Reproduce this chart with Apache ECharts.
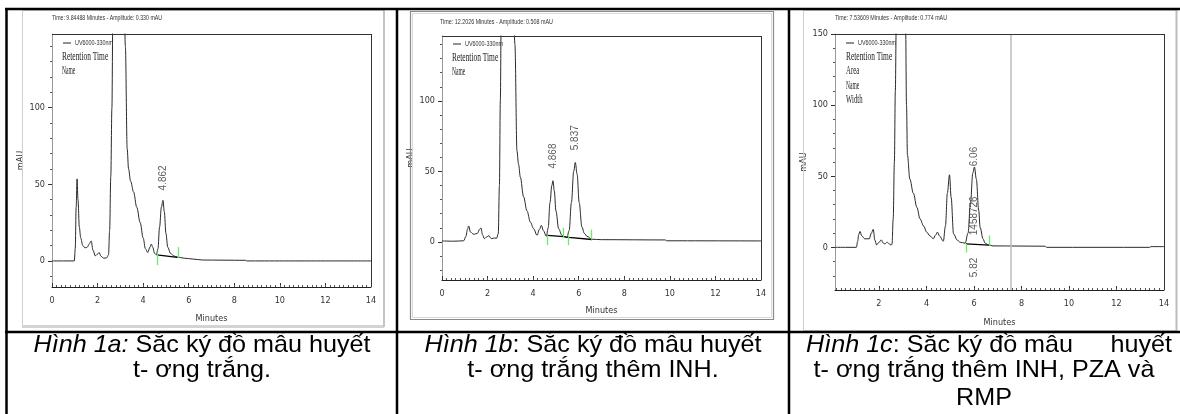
<!DOCTYPE html>
<html>
<head>
<meta charset="utf-8">
<script src="https://cdn.jsdelivr.net/npm/echarts@6.0.0/dist/echarts.min.js"></script>
<style>
    html, body { margin: 0; padding: 0; background: #fff; }
    #chart { width: 1180px; height: 414px; }
</style>
</head>
<body>
<div id="chart"></div>
<script>
// ---- data (minutes, mAU) ----
var trace1 = [[0,0],[0.5,0],[0.98,0],[1.02,8],[1.06,35],[1.1,53.5],[1.14,40],[1.2,22],[1.26,15],[1.35,10],[1.45,8.5],
    [1.55,9],[1.63,11],[1.72,13],[1.8,7],[1.9,3.3],[2.0,4.5],[2.07,5.5],[2.15,3],[2.27,1.8],[2.4,2],[2.48,4],[2.53,20],
    [2.58,55],[2.63,100],[2.67,160],[2.8,260],[3.0,280],[3.15,190],[3.22,140],[3.3,73],[3.36,60],[3.45,52],[3.58,45],
    [3.72,35],[3.87,25],[4.0,15],[4.1,8],[4.2,5.5],[4.3,9],[4.36,11],[4.42,9],[4.5,5],[4.58,4],[4.65,8],[4.72,22],
    [4.8,35],[4.87,39.5],[4.93,32],[5.0,18],[5.08,9],[5.2,5],[5.34,3.3],[5.5,2.5],[5.8,1.8],[6.2,1.2],[6.6,0.6],
    [7.5,0.5],[8.5,0.4],[8.55,0],[14,0]];
var trace2 = [[0,0.7],[0.5,0.5],[0.95,0.8],[1.05,4],[1.12,9],[1.17,11.3],[1.25,7],[1.39,5.4],[1.55,6],[1.65,9],
    [1.71,9.9],[1.78,5],[1.86,2.3],[1.96,3.5],[2.06,4.5],[2.12,3],[2.19,2.3],[2.3,2.8],[2.4,2.6],[2.47,6],[2.52,40],
    [2.56,100],[2.6,160],[2.75,260],[2.95,280],[3.1,200],[3.2,140],[3.29,64.5],[3.36,55],[3.44,45.8],[3.58,32],
    [3.73,22],[3.88,14],[4.02,9.4],[4.17,4.7],[4.28,9],[4.36,11.7],[4.45,8],[4.58,4],[4.66,10],[4.74,28],[4.82,40],
    [4.87,43.4],[4.93,36],[5.0,22],[5.12,9.4],[5.25,5],[5.34,4],[5.48,3],[5.58,8],[5.68,28],[5.78,50],[5.85,56.3],
    [5.93,48],[6.02,28],[6.14,10.6],[6.25,6],[6.36,4],[6.58,1.9],[7,1.6],[9.8,1.4],[9.85,0.8],[14,0.7]];
var trace3 = [[0.15,0],[0.6,0],[1.05,0],[1.1,4],[1.15,9],[1.2,11.2],[1.28,8],[1.4,6],[1.59,6],[1.68,10],[1.76,12.6],
    [1.83,5],[1.9,1.7],[2.0,3.5],[2.1,5.2],[2.18,3],[2.25,2.4],[2.35,3.6],[2.43,2.5],[2.5,1.7],[2.55,2],[2.6,20],
    [2.65,60],[2.69,110],[2.73,160],[2.85,250],[3.0,240],[3.12,160],[3.16,100],[3.2,65],[3.3,48],[3.45,38],[3.6,28],
    [3.73,20],[3.88,15],[4.01,10.7],[4.15,8],[4.29,6],[4.38,8.5],[4.46,10.7],[4.55,8],[4.71,4.3],[4.8,15],[4.88,38],
    [4.97,51],[5.04,35],[5.14,9.5],[5.3,5],[5.42,3.6],[5.63,2.9],[5.75,10],[5.85,30],[5.95,52],[6.02,56.5],[6.1,48],
    [6.2,26],[6.26,14],[6.38,6],[6.47,2.9],[6.61,1.7],[6.8,1],[9,0.8],[9.05,0],[13.4,0],[13.45,0.5],[14,0.5]];

// integration baselines
var base1 = [[4.6,4],[5.5,2.3]];
var base2 = [[4.63,4.7],[5.34,3.8],[5.56,3.2],[6.58,1.7]];
var base3 = [[5.66,2.4],[6.64,1.6]];

// green peak start/end markers: [minute, yFrom, yTo]
var marks1 = [[4.6,-2.7,4.5],[5.53,2,9]];
var marks2 = [[4.63,-2.3,4.7],[5.34,3,10],[5.56,-2.3,4.7],[6.55,1.6,8.7]];
var marks3 = [[5.66,-3.6,2.4],[6.64,1.2,8.3]];

// peak annotations: [minute, value where text starts, text]
var notes1 = [[4.862,46,'4.862']];
var notes2 = [[4.868,52,'4.868'],[5.837,65,'5.837']];
var notes3 = [[6.02,57,'6.06'],[6.02,8.5,'1458726'],[6.02,-21,'5.82']];

var cursor3 = 7.54;

var xTicks = [0,2,4,6,8,10,12,14];
var xTicks3 = [2,4,6,8,10,12,14];
var yTicks = [0,50,100];
var yTicks3 = [0,50,100,150];

var headers = ['Time: 9.84488 Minutes - Amplitude: 0.330 mAU',
    'Time: 12.2026 Minutes - Amplitude: 0.508 mAU',
    'Time: 7.53609 Minutes - Amplitude: 0.774 mAU'];
var legendName = 'UV6000-330nm';
var legendRows1 = ['Retention Time','Name'];
var legendRows3 = ['Retention Time','Area','Name','Width'];

// ---- layout ----
var grids = [
    {left: 52, top: 34, width: 319, height: 253},
    {left: 442, top: 36, width: 319, height: 244},
    {left: 835, top: 34, width: 329, height: 256}
];
var xRange = [[0,14],[0,14],[0.15,14]];
var yRange = [[-17,148],[-27,146],[-30,150]];
var nameGapX = [27, 26, 28];

function steps(from, to, step) {
    var out = [];
    for (var v = from; v <= to + 1e-9; v += step) out.push(Math.round(v * 100) / 100);
    return out;
}

var measureCtx = document.createElement('canvas').getContext('2d');
function fit(text, font, width) {
    measureCtx.font = font;
    return width / measureCtx.measureText(text).width;
}

var tickFont = {fontSize: 9, color: '#333', fontFamily: '"Liberation Sans Narrow","DejaVu Sans Condensed","Liberation Sans",sans-serif'};

var xAxes = [], yAxes = [], series = [];
grids.forEach(function (g, i) {
    var xt = i === 2 ? xTicks3 : xTicks;
    var yt = i === 2 ? yTicks3 : yTicks;
    xAxes.push({
        type: 'value', gridIndex: i, position: 'bottom', min: xRange[i][0], max: xRange[i][1],
        name: 'Minutes', nameLocation: 'middle', nameGap: nameGapX[i],
        nameTextStyle: tickFont,
        axisLine: {onZero: false, lineStyle: {color: '#222', width: 1}},
        axisTick: {inside: true, length: 4, customValues: xt, lineStyle: {color: '#333'}},
        axisLabel: Object.assign({customValues: xt, margin: 9}, tickFont),
        splitLine: {show: false}
    });
    xAxes.push({
        type: 'value', gridIndex: i, position: 'bottom', min: xRange[i][0], max: xRange[i][1],
        axisLine: {show: false, onZero: false},
        axisTick: {inside: true, length: 2, customValues: steps(0.2, 13.8, 0.2).filter(function (v) { return v > xRange[i][0]; }),
            lineStyle: {color: '#555'}},
        axisLabel: {show: false},
        splitLine: {show: false}
    });
    yAxes.push({
        type: 'value', gridIndex: i, position: 'left', min: yRange[i][0], max: yRange[i][1],
        name: 'mAU', nameLocation: 'middle', nameGap: 20, nameRotate: 90,
        nameTextStyle: tickFont,
        axisLine: {show: true, onZero: false, lineStyle: {color: '#999', width: 1}},
        axisTick: {show: true, inside: false, length: 4, customValues: yt, lineStyle: {color: '#333'}},
        axisLabel: Object.assign({customValues: yt, margin: 7}, tickFont),
        splitLine: {show: false}
    });
    yAxes.push({
        type: 'value', gridIndex: i, position: 'left', min: yRange[i][0], max: yRange[i][1],
        axisLine: {show: false, onZero: false},
        axisTick: {show: true, inside: false, length: 2,
            customValues: steps(-30, 150, 10).filter(function (v) { return v > yRange[i][0] && v <= yRange[i][1] && v % 50 !== 0; }),
            lineStyle: {color: '#555'}},
        axisLabel: {show: false},
        splitLine: {show: false}
    });
});

var traces = [trace1, trace2, trace3];
var bases = [base1, base2, base3];
var marks = [marks1, marks2, marks3];
var notes = [notes1, notes2, notes3];

traces.forEach(function (tr, i) {
    var s = {
        type: 'line', xAxisIndex: i * 2, yAxisIndex: i * 2, data: tr,
        showSymbol: false, smooth: 0.35, smoothMonotone: 'x', clip: true,
        lineStyle: {color: '#2a2a2a', width: 1}, silent: true, z: 3
    };
    if (i === 2) {
        s.markLine = {
            symbol: 'none', silent: true, label: {show: false},
            lineStyle: {color: '#bdbdbd', width: 1.5, type: 'solid'},
            data: [{xAxis: cursor3}]
        };
    }
    series.push(s);
    series.push({
        type: 'line', xAxisIndex: i * 2, yAxisIndex: i * 2, data: bases[i],
        showSymbol: false, lineStyle: {color: '#000', width: 1.3}, silent: true, z: 4,
        markLine: {
            symbol: 'none', silent: true, label: {show: false},
            lineStyle: {color: '#66ee66', width: 1.3, type: 'solid'},
            data: marks[i].map(function (m) { return [{coord: [m[0], m[1]]}, {coord: [m[0], m[2]]}]; })
        }
    });
    series.push({
        type: 'scatter', xAxisIndex: i * 2, yAxisIndex: i * 2, symbolSize: 0, silent: true, z: 5,
        data: notes[i].map(function (n) { return {value: [n[0], n[1]], name: n[2]}; }),
        label: {
            show: true, position: 'inside', rotate: 90, align: 'left', verticalAlign: 'middle',
            formatter: '{b}', fontSize: 10, color: '#333', fontFamily: 'Liberation Sans'
        }
    });
});

// ---- table lines, screenshot frames, headers, legends and captions ----
var graphics = [];
function line(x1, y1, x2, y2, color, w) {
    graphics.push({type: 'line', silent: true, shape: {x1: x1, y1: y1, x2: x2, y2: y2}, style: {stroke: color, lineWidth: w}, z: 10});
}
function rect(x, y, w, h, color, lw) {
    graphics.push({type: 'rect', silent: true, shape: {x: x, y: y, width: w, height: h}, style: {fill: null, stroke: color, lineWidth: lw}, z: 1});
}
function text(str, x, y, font, width, align, color) {
    graphics.push({
        type: 'text', silent: true, x: x, y: y, scaleX: width ? fit(str, font, width) : 1, z: 11,
        style: {text: str, font: font, fill: color || '#000', align: align || 'left', verticalAlign: 'middle'}
    });
}

// screenshot frames
rect(22.5, 10.5, 361, 316, '#cfcfcf', 1);
line(22, 326.5, 384, 326.5, '#d4d4d4', 3);
rect(410.5, 11.5, 363, 308, '#8a8a8a', 1.2);
rect(412.5, 13.5, 359, 304, '#d9d9d9', 1);
rect(803.5, 10.5, 373, 320, '#cfcfcf', 1);
line(1176.5, 10, 1176.5, 331, '#bdbdbd', 2);
line(384, 10, 384, 327, '#c4c4c4', 2);

// plot boxes (top and right edges)
grids.forEach(function (g) {
    line(g.left, g.top + 0.5, g.left + g.width, g.top + 0.5, '#333', 1);
    line(g.left + g.width + 0.5, g.top, g.left + g.width + 0.5, g.top + g.height, '#333', 1);
});

// table borders
line(5, 9, 1180, 9, '#000', 2.5);
line(6.5, 8, 6.5, 414, '#000', 2.5);
line(397, 8, 397, 414, '#000', 2.5);
line(789, 8, 789, 414, '#000', 2.5);
line(5, 332, 1180, 332, '#000', 2.5);

// time header of each screenshot
text(headers[0], 52, 18, '8px "Liberation Sans"', 110, 'left', '#333');
text(headers[1], 440, 22, '8px "Liberation Sans"', 113, 'left', '#333');
text(headers[2], 835, 18, '8px "Liberation Sans"', 112, 'left', '#333');

// legends
var legendPos = [{x: 62, y: 43, rows: legendRows1}, {x: 452, y: 44, rows: legendRows1}, {x: 845, y: 43, rows: legendRows3}];
legendPos.forEach(function (p) {
    line(p.x + 1, p.y, p.x + 9, p.y, '#222', 1);
    text(legendName, p.x + 13, p.y, '8px "Liberation Sans"', 38, 'left', '#333');
    p.rows.forEach(function (r, k) {
        text(r, p.x - (p.rows.length > 2 ? -1 : 0), p.y + 14 + k * 14.3, '12px "Liberation Serif"', r.length * 3.3, 'left', '#222');
    });
});

// captions (Vietnamese figure titles)
var capFont = '24px "Liberation Sans"';
var capScale = fit('Hình 1a: Sắc ký đồ mẫu huyết', capFont, 337);
function caption(rtext, x, y, align) {
    graphics.push({
        type: 'text', silent: true, x: x, y: y, scaleX: capScale, z: 11,
        style: {
            text: rtext, fontSize: 24, fontFamily: 'Liberation Sans', fill: '#000',
            align: align, verticalAlign: 'middle',
            rich: {i: {fontSize: 24, fontFamily: 'Liberation Sans', fontStyle: 'italic', fill: '#000'}}
        }
    });
}
caption('{i|Hình 1a:} Sắc ký đồ mẫu huyết', 202, 345, 'center');
caption('t- ơng trắng.', 202, 370, 'center');
caption('{i|Hình 1b}: Sắc ký đồ mẫu huyết', 593, 345, 'center');
caption('t- ơng trắng thêm INH.', 593, 370, 'center');
caption('{i|Hình 1c}: Sắc ký đồ mẫu', 806, 345, 'left');
caption('huyết', 1172, 345, 'right');
caption('t- ơng trắng thêm INH, PZA và', 984, 370, 'center');
caption('RMP', 984, 398, 'center');

var chart = echarts.init(document.getElementById('chart'), null, {renderer: 'canvas'});
chart.setOption({
    animation: false,
    backgroundColor: '#fff',
    grid: grids.map(function (g) { return Object.assign({containLabel: false, show: false}, g); }),
    xAxis: xAxes,
    yAxis: yAxes,
    series: series,
    graphic: graphics
});
</script>
</body>
</html>
